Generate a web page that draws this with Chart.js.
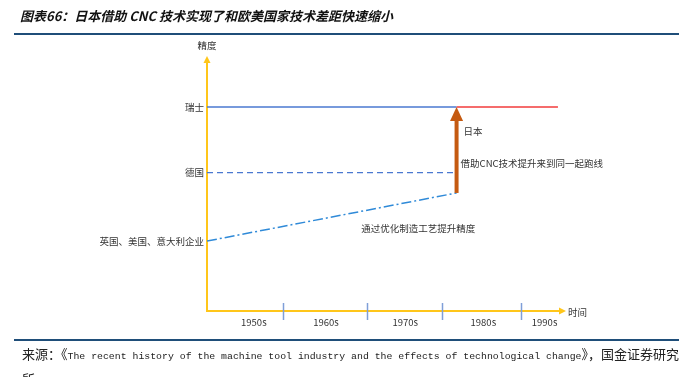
<!DOCTYPE html>
<html>
<head>
<meta charset="utf-8">
<script src="https://cdn.jsdelivr.net/npm/chart.js@4.4.0/dist/chart.umd.min.js"></script>
<style>
html, body { margin:0; padding:0; background:#fff; }
body { width:679px; height:377px; position:relative; overflow:hidden; font-family:"Noto Sans CJK SC", sans-serif; }
#wrap { position:absolute; left:0; top:0; width:679px; height:377px; }
#title { position:absolute; left:20px; top:6px; font-size:13px; font-weight:bold; font-style:italic; color:#111; white-space:nowrap; line-height:20px; }
.rule { position:absolute; left:14px; right:0; height:2px; background:#1f4e79; }
#source { position:absolute; left:22px; top:343px; font-size:13px; line-height:22px; white-space:nowrap; color:#222; }
.mono { font-family:"Liberation Mono", monospace; font-size:9.85px; }
</style>
</head>
<body>
<div id="wrap"><canvas id="myChart" width="679" height="377"></canvas></div>
<div id="title">图表66：日本借助 CNC 技术实现了和欧美国家技术差距快速缩小</div>
<div class="rule" style="top:33px"></div>
<div class="rule" style="top:339px"></div>
<div id="source">来源：《<span class="mono">The recent history of the machine tool industry and the effects of technological change</span>》，国金证券研究<br>所</div>
<script>
// decades along the time axis (0-100 units)
var categories = ['1950s', '1960s', '1970s', '1980s', '1990s'];
var categoryCenters = [13.3, 33.8, 56.3, 78.5, 95.9];
var decadeBounds = [21.6, 45.5, 66.8, 89.2];

// precision levels
var levelLabels = ['瑞士', '德国', '英国、美国、意大利企业'];
var levelValues = [82.3, 55.8, 28.2];

// series
var lineX = [0, 70.9];
var japanX = [70.9, 99.7];
var swissY = [82.3, 82.3];
var germanyY = [55.8, 55.8];
var ukY = [28.2, 47.6];
var japanY = [82.3, 82.3];

var axisColor = '#ffc61a';
var textColor = '#333';
var labelFont = "9.5px 'Noto Sans CJK SC'";

var pts = function(xs, ys) {
  return xs.map(function(v, i) { return {x: v, y: ys[i]}; });
};

// axis arrows, decade ticks, japan arrow and notes
var decor = {
  id: 'decor',
  afterDraw: function(chart) {
    var ctx = chart.ctx, a = chart.chartArea;
    var x = chart.scales.x, y = chart.scales.y;
    ctx.save();

    // axis arrowheads
    ctx.fillStyle = axisColor;
    ctx.beginPath();
    ctx.moveTo(a.left - 3.5, a.top);
    ctx.lineTo(a.left + 3.5, a.top);
    ctx.lineTo(a.left, a.top - 7);
    ctx.fill();
    ctx.beginPath();
    ctx.moveTo(a.right, a.bottom - 3.5);
    ctx.lineTo(a.right, a.bottom + 3.5);
    ctx.lineTo(a.right + 7, a.bottom);
    ctx.fill();

    // decade separators
    ctx.strokeStyle = '#7f9fd8';
    ctx.lineWidth = 1.5;
    decadeBounds.forEach(function(b) {
      var px = Math.round(x.getPixelForValue(b)) + 0.5;
      ctx.beginPath();
      ctx.moveTo(px, a.bottom - 8);
      ctx.lineTo(px, a.bottom + 9);
      ctx.stroke();
    });

    // japan arrow
    var jx = x.getPixelForValue(japanX[0]);
    var top = y.getPixelForValue(swissY[1]);
    var bottom = y.getPixelForValue(ukY[1]);
    ctx.strokeStyle = '#c55a11';
    ctx.fillStyle = '#c55a11';
    ctx.lineWidth = 4;
    ctx.beginPath();
    ctx.moveTo(jx, bottom);
    ctx.lineTo(jx, top + 12);
    ctx.stroke();
    ctx.beginPath();
    ctx.moveTo(jx - 6.5, top + 14);
    ctx.lineTo(jx + 6.5, top + 14);
    ctx.lineTo(jx, top);
    ctx.fill();

    // texts
    ctx.fillStyle = textColor;
    ctx.font = labelFont;
    ctx.textBaseline = 'middle';
    ctx.textAlign = 'center';
    ctx.fillText('精度', a.left, a.top - 18);
    ctx.textAlign = 'left';
    ctx.fillText('时间', a.right + 9, a.bottom + 1);
    ctx.fillText('日本', jx + 7, top + 24);
    ctx.fillText('借助CNC技术提升来到同一起跑线', jx + 4, top + 56);
    ctx.fillText('通过优化制造工艺提升精度', x.getPixelForValue(43.8), y.getPixelForValue(33.5));
    ctx.restore();
  }
};

var chart = new Chart(document.getElementById('myChart'), {
  type: 'line',
  plugins: [decor],
  data: {
    datasets: [{
      data: pts(lineX, swissY),
      borderColor: '#4a78d0',
      borderWidth: 1.5
    }, {
      data: pts(japanX, japanY),
      borderColor: '#f23b3b',
      borderWidth: 1.5
    }, {
      data: pts(lineX, germanyY),
      borderColor: '#4a78d0',
      borderWidth: 1.3,
      borderDash: [6, 4]
    }, {
      data: pts(lineX, ukY),
      borderColor: '#2f8ad8',
      borderWidth: 1.5,
      borderDash: [10, 3, 2, 3]
    }]
  },
  options: {
    responsive: false,
    animation: false,
    events: [],
    layout: { padding: { top: 63, right: 120, left: 0, bottom: 0 } },
    elements: { point: { radius: 0 }, line: { tension: 0 } },
    plugins: { legend: { display: false }, tooltip: { enabled: false } },
    scales: {
      x: {
        type: 'linear',
        min: 0,
        max: 100,
        grid: { display: false, drawTicks: false },
        border: { display: true, color: axisColor, width: 2 },
        afterFit: function(scale) { scale.height = 66; },
        afterBuildTicks: function(scale) {
          scale.ticks = categoryCenters.map(function(v) { return {value: v}; });
        },
        ticks: {
          autoSkip: false,
          maxRotation: 0,
          padding: 6,
          color: textColor,
          font: { family: 'Noto Sans CJK SC', size: 9.5 },
          callback: function(v, i) { return categories[i]; }
        }
      },
      y: {
        type: 'linear',
        min: 0,
        max: 100,
        grid: { display: false, drawTicks: false },
        border: { display: true, color: axisColor, width: 2 },
        afterFit: function(scale) { scale.width = 207; },
        afterBuildTicks: function(scale) {
          scale.ticks = levelValues.map(function(v) { return {value: v}; });
        },
        ticks: {
          autoSkip: false,
          padding: 3,
          color: textColor,
          font: { family: 'Noto Sans CJK SC', size: 9.5 },
          callback: function(v, i) { return levelLabels[i]; }
        }
      }
    }
  }
});
</script>
</body>
</html>
